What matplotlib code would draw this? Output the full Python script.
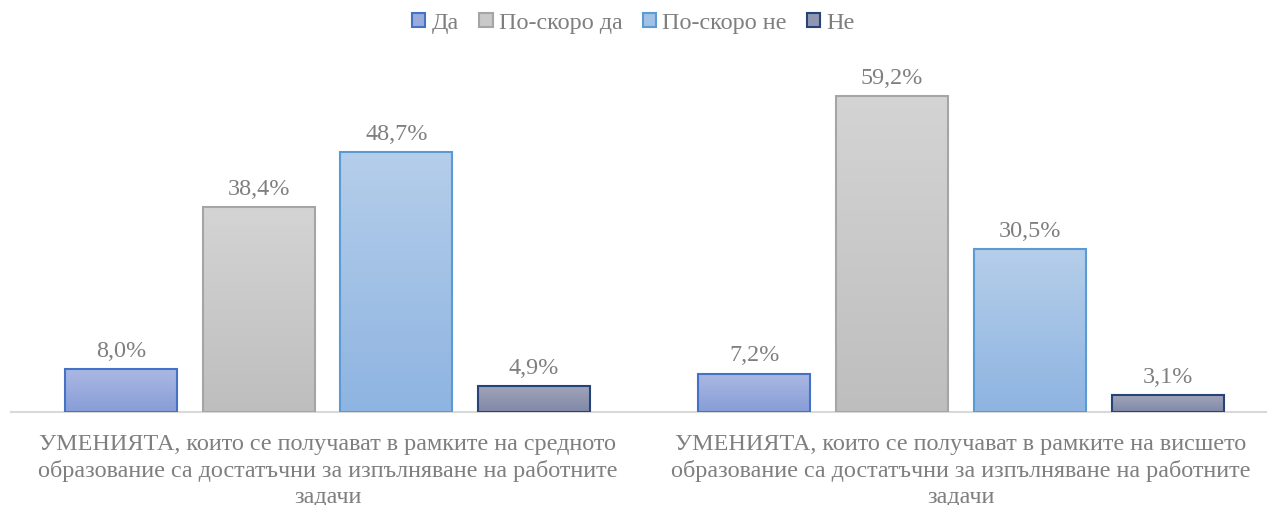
import matplotlib
matplotlib.use("Agg")
import matplotlib.pyplot as plt
import numpy as np
from matplotlib.colors import LinearSegmentedColormap
from matplotlib.patches import Patch

plt.rcParams['font.family'] = ['Liberation Serif', 'DejaVu Serif']

categories = [
    "УМЕНИЯТА, които се получават в рамките на средното\nобразование са достатъчни за изпълняване на работните\nзадачи",
    "УМЕНИЯТА, които се получават в рамките на висшето\nобразование са достатъчни за изпълняване на работните\nзадачи",
]
series_names = ["Да", "По-скоро да", "По-скоро не", "Не"]
values = {
    "Да": [8.0, 7.2],
    "По-скоро да": [38.4, 59.2],
    "По-скоро не": [48.7, 30.5],
    "Не": [4.9, 3.1],
}
grad_top = ["#ABB8E3", "#D4D4D4", "#B5CEEA", "#A2A5BA"]
grad_bot = ["#879DD7", "#BEBEBE", "#8EB4E1", "#7F88A6"]
edges = ["#4472C4", "#A5A5A5", "#5B9BD5", "#264478"]
text_color = "#7F7F7F"
FS = 17.4

W, H = 1267, 506
fig = plt.figure(figsize=(W / 100, H / 100), dpi=100)
ax = fig.add_axes([11 / W, (H - 413) / H, (1266 - 11) / W, (413 - 66) / H])

bw = 112 / 633.5
step = 137.7 / 633.5
x = np.arange(len(categories))
for i, name in enumerate(series_names):
    offs = (i - 1.5) * step
    cmap = LinearSegmentedColormap.from_list(name, [grad_bot[i], grad_top[i]])
    grad = np.linspace(0, 1, 256).reshape(-1, 1)
    for j, v in enumerate(values[name]):
        xc = x[j] + offs
        ax.imshow(grad, cmap=cmap, origin='lower', aspect='auto',
                  extent=[xc - bw / 2, xc + bw / 2, 0, v], zorder=2)
        ax.bar(xc, v, width=bw, facecolor='none', edgecolor=edges[i],
               linewidth=1.5, zorder=3)
        ax.annotate(f"{v:.1f}%".replace('.', ','), (xc, v), xytext=(0, 6),
                    textcoords='offset points', ha='center', va='bottom',
                    fontsize=FS, color=text_color)

ax.set_xlim(-0.4996, 1.4815)
ax.set_ylim(0, 65)
for s in ['left', 'right', 'top']:
    ax.spines[s].set_visible(False)
ax.spines['bottom'].set_color('#D9D9D9')
ax.spines['bottom'].set_linewidth(1.5)
ax.set_yticks([])
ax.set_xticks(x)
ax.set_xticklabels(categories, fontsize=FS, color=text_color, linespacing=1.3)
ax.tick_params(axis='x', length=0, pad=15)

handles = [Patch(facecolor=(np.array(matplotlib.colors.to_rgb(grad_top[i])) +
                            np.array(matplotlib.colors.to_rgb(grad_bot[i]))) / 2,
                 edgecolor=edges[i], linewidth=1.5, label=n)
           for i, n in enumerate(series_names)]
fig.legend(handles=handles, loc='center', bbox_to_anchor=(0.5, (H - 24) / H),
           ncol=4, frameon=False, fontsize=FS, labelcolor=text_color,
           handlelength=0.55, handleheight=0.55, handletextpad=0.25, columnspacing=0.85)

fig.savefig("out.png", dpi=100)
